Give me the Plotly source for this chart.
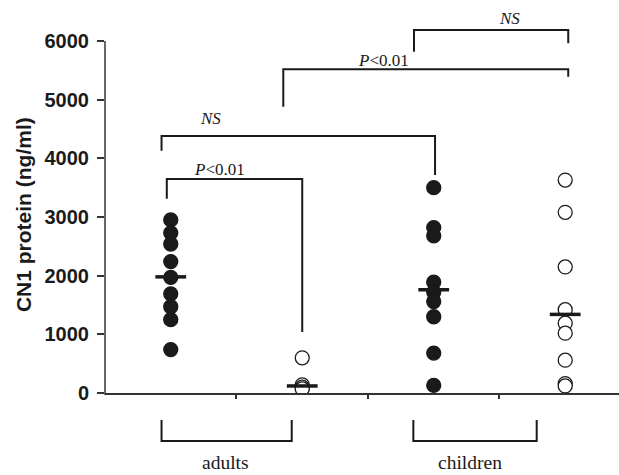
import plotly.graph_objects as go

# ---- data ----
group_pos = [1, 2, 3, 4]
adults_filled = [2950, 2730, 2540, 2240, 1970, 1690, 1470, 1250, 740]
adults_open = [600, 140, 100, 70]
children_filled = [3500, 2820, 2680, 1890, 1720, 1560, 1300, 680, 130]
children_open = [3630, 3080, 2150, 1420, 1190, 1020, 560, 160, 120]
median_values = [1980, 120, 1760, 1340]
y_ticks = [0, 1000, 2000, 3000, 4000, 5000, 6000]
group_labels = ["adults", "children"]

# significance brackets: (x_left, x_right, y_top, y_left_end, y_right_end, label, label_x, label_y)
brackets = [
    (0.97, 2.0, 3650, 3310, 1040, "<i>P</i>&lt;0.01", 1.367, 3818),
    (0.93, 3.01, 4381, 4131, 3716, "<i>NS</i>", 1.306, 4688),
    (1.856, 4.023, 5518, 4880, 5392, "<i>P</i>&lt;0.01", 2.62, 5676),
    (2.85, 4.023, 6188, 5818, 5961, "<i>NS</i>", 3.58, 6392),
]
# group brackets under the axis: (x_left, x_right, label_x)
group_brackets = [(0.93, 1.92, 1.42), (2.845, 3.783, 3.276)]

INK = "#1a1a1a"
Y_MAX = 6700

fig = go.Figure()

def dots(x, ys, filled):
    fig.add_trace(go.Scatter(
        x=[x] * len(ys), y=ys, mode="markers", showlegend=False,
        marker=dict(size=14, symbol="circle",
                    color=INK if filled else "white",
                    line=dict(color=INK, width=1.3)),
    ))

dots(group_pos[0], adults_filled, True)
dots(group_pos[1], adults_open, False)
dots(group_pos[2], children_filled, True)
dots(group_pos[3], children_open, False)

fig.add_trace(go.Scatter(
    x=group_pos, y=median_values, mode="markers", showlegend=False,
    marker=dict(symbol="line-ew", size=22, line=dict(color=INK, width=3.5)),
))

shapes = []
annotations = []
for xl, xr, yt, yl, yr, lab, lx, ly in brackets:
    shapes.append(dict(type="path", xref="x", yref="y",
                       path=f"M {xl},{yl} L {xl},{yt} L {xr},{yt} L {xr},{yr}",
                       line=dict(color=INK, width=2)))
    annotations.append(dict(x=lx, y=ly, xref="x", yref="y", text=lab, showarrow=False,
                            font=dict(family="Liberation Serif", size=17, color=INK),
                            xanchor="center", yanchor="middle"))

for (xl, xr, lx), lab in zip(group_brackets, group_labels):
    shapes.append(dict(type="path", xref="x", yref="paper",
                       path=f"M {xl},-0.0687 L {xl},-0.1221 L {xr},-0.1221 L {xr},-0.0687",
                       line=dict(color=INK, width=2)))
    annotations.append(dict(x=lx, y=-0.1756, xref="x", yref="paper", text=lab, showarrow=False,
                            font=dict(family="Liberation Serif", size=19.5, color=INK),
                            xanchor="center", yanchor="middle"))

# y axis line stopping at 6000
shapes.append(dict(type="line", xref="paper", yref="paper", x0=0, x1=0,
                   y0=-0.005, y1=y_ticks[-1] / Y_MAX, line=dict(color="#333", width=1.5)))

annotations.append(dict(x=-0.1595, y=0.5 * y_ticks[-1] / Y_MAX + 0.005, xref="paper", yref="paper",
                        text="CN1 protein (ng/ml)", textangle=-90, showarrow=False,
                        font=dict(family="Liberation Sans", size=21, color=INK, weight="bold"),
                        xanchor="center", yanchor="middle"))

fig.update_layout(
    width=619, height=475,
    margin=dict(l=105, r=0, t=0, b=82),
    plot_bgcolor="white", paper_bgcolor="white",
    shapes=shapes, annotations=annotations,
    xaxis=dict(range=[0.5, 4.409], tickvals=[1.5, 2.5, 3.5], showticklabels=False,
               ticks="outside", ticklen=4, tickcolor="#333", tickwidth=1.5,
               showline=True, linecolor="#333", linewidth=1.5,
               showgrid=False, zeroline=False),
    yaxis=dict(range=[0, Y_MAX], tickvals=y_ticks, ticks="outside", ticklen=7,
               tickcolor="#333", tickwidth=1.5, showline=False, showgrid=False,
               zeroline=False, ticklabelstandoff=4,
               tickfont=dict(family="Liberation Sans", size=20, color=INK, weight="bold")),
)

fig.write_html("out.html")
